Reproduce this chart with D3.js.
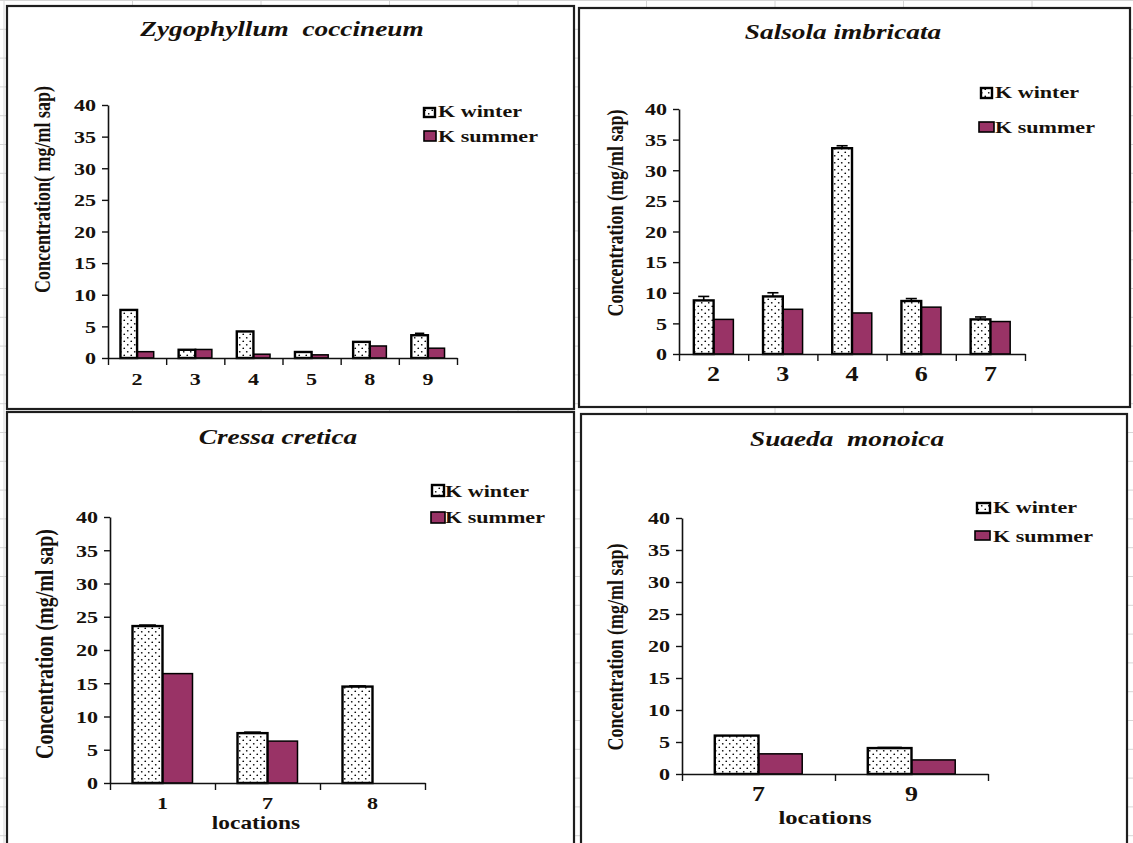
<!DOCTYPE html>
<html>
<head>
<meta charset="utf-8">
<script src="https://cdn.jsdelivr.net/npm/d3@7"></script>
<style>
  html, body { margin: 0; padding: 0; background: #fff; }
  svg { display: block; }
  text { font-family: "Liberation Serif", "Times New Roman", serif; fill: #16110c; }
</style>
</head>
<body>
<svg id="chart" width="1133" height="843"></svg>
<script>
// ---- data: potassium concentration (mg/ml sap) by sampling location ----
const seriesNames = ["K winter", "K summer"];
const yTicks = [0, 5, 10, 15, 20, 25, 30, 35, 40];

const zygoLocations = ["2", "3", "4", "5", "8", "9"];
const zygoWinter = [7.6, 1.3, 4.2, 0.95, 2.55, 3.6];
const zygoSummer = [1.0, 1.35, 0.6, 0.5, 1.9, 1.55];
const zygoWinterErr = [0, 0, 0, 0, 0, 0.3];

const salsolaLocations = ["2", "3", "4", "6", "7"];
const salsolaWinter = [8.75, 9.4, 33.6, 8.65, 5.65];
const salsolaSummer = [5.65, 7.3, 6.7, 7.65, 5.3];
const salsolaWinterErr = [0.65, 0.6, 0.4, 0.4, 0.4];

const cressaLocations = ["1", "7", "8"];
const cressaWinter = [23.6, 7.5, 14.5];
const cressaSummer = [16.45, 6.3, null];
const cressaWinterErr = [0.15, 0.15, 0.1];

const suaedaLocations = ["7", "9"];
const suaedaWinter = [6.0, 4.05];
const suaedaSummer = [3.15, 2.2];
const suaedaWinterErr = [0, 0.1];

// ---- layout of the four panels ----
const panels = [
  {
    title: "Zygophyllum  coccineum", cats: zygoLocations,
    winter: zygoWinter, summer: zygoSummer, err: zygoWinterErr,
    frame: [7, 6, 567, 403], x0: 108, x1: 457, yBase: 358, yTop: 105,
    titlePos: [282, 36], yLabel: "Concentration( mg/ml sap)", yLabelPos: [50, 189.5], yLabelSize: 18,
    xTickSize: 17, xTickDrop: 27, xLabelPos: null,
    legendX: 438,
    legend: [{ sw: [424, 108, 11, 9], base: 117 }, { sw: [424, 131, 12, 10], base: 142 }]
  },
  {
    title: "Salsola imbricata", cats: salsolaLocations,
    winter: salsolaWinter, summer: salsolaSummer, err: salsolaWinterErr,
    frame: [579, 8, 551, 399], x0: 679, x1: 1025, yBase: 354, yTop: 109,
    titlePos: [843, 39], yLabel: "Concentration (mg/ml sap)", yLabelPos: [623, 213], yLabelSize: 18,
    xTickSize: 20, xTickDrop: 27, xLabelPos: null,
    legendX: 995,
    legend: [{ sw: [981, 88, 11, 10], base: 98 }, { sw: [979, 122, 15, 10], base: 133 }]
  },
  {
    title: "Cressa cretica", cats: cressaLocations,
    winter: cressaWinter, summer: cressaSummer, err: cressaWinterErr,
    frame: [7, 412, 567, 440], x0: 110, x1: 425, yBase: 783, yTop: 517,
    titlePos: [278, 444], yLabel: "Concentration (mg/ml sap)", yLabelPos: [53, 644], yLabelSize: 20,
    xTickSize: 17, xTickDrop: 26, xLabelPos: [256, 829], xLabelSize: 18,
    legendX: 445,
    legend: [{ sw: [432, 485, 12, 11], base: 497 }, { sw: [431, 512, 14, 11], base: 523 }]
  },
  {
    title: "Suaeda  monoica", cats: suaedaLocations,
    winter: suaedaWinter, summer: suaedaSummer, err: suaedaWinterErr,
    frame: [581, 414, 546, 440], x0: 682, x1: 988, yBase: 774, yTop: 518,
    titlePos: [847, 446], yLabel: "Concentration (mg/ml sap)", yLabelPos: [623, 647], yLabelSize: 18,
    xTickSize: 20, xTickDrop: 27, xLabelPos: [825, 824], xLabelSize: 19,
    legendX: 993,
    legend: [{ sw: [977, 503, 13, 10], base: 513 }, { sw: [975, 531, 15, 9], base: 542 }]
  }
];

const STRETCH = 1.3;          // glyphs in this figure are drawn wide
const SUMMER_FILL = "#993366";
const svg = d3.select("#chart");

// dotted fill used for the winter bars
const defs = svg.append("defs");
const pat = defs.append("pattern")
  .attr("id", "dots").attr("patternUnits", "userSpaceOnUse")
  .attr("width", 7).attr("height", 7);
pat.append("rect").attr("width", 7).attr("height", 7).attr("fill", "#fff");
pat.append("circle").attr("cx", 1.75).attr("cy", 1.75).attr("r", 0.85).attr("fill", "#000");
pat.append("circle").attr("cx", 5.25).attr("cy", 5.25).attr("r", 0.85).attr("fill", "#000");

// faint worksheet grid behind the chart objects
const grid = svg.append("g").attr("stroke", "#d6d6d6").attr("stroke-width", 1);
d3.range(4, 1133, 128.5).forEach(x => {
  grid.append("line").attr("x1", x).attr("x2", x).attr("y1", 0).attr("y2", 843);
});
d3.range(0.5, 843, 28.8).forEach(y => {
  grid.append("line").attr("x1", 0).attr("x2", 1133).attr("y1", y).attr("y2", y);
});

function wideText(g, x, y, str, o) {
  const t = g.append("text")
    .attr("transform", `translate(${x},${y}) scale(${o.sx || STRETCH},1)` + (o.rotate ? " rotate(-90)" : ""))
    .attr("text-anchor", o.anchor || "start")
    .style("font-size", o.size + "px")
    .style("font-weight", o.weight || "bold")
    .style("font-style", o.italic ? "italic" : "normal")
    .style("white-space", "pre")
    .text(str);
  if (o.dy) t.attr("dy", o.dy);
  return t;
}

panels.forEach(p => {
  const g = svg.append("g");
  const [fx, fy, fw, fh] = p.frame;
  g.append("rect").attr("x", fx).attr("y", fy).attr("width", fw).attr("height", fh)
    .attr("fill", "#fff").attr("stroke", "#1e1e1e").attr("stroke-width", 2.2);

  const y = d3.scaleLinear().domain([0, 40]).range([p.yBase, p.yTop]);
  const x = d3.scaleBand().domain(p.cats).range([p.x0, p.x1])
    .paddingInner(1.5 / 3.5).paddingOuter(0.75 / 3.5);
  const xs = d3.scaleBand().domain(seriesNames).range([0, x.bandwidth()]);
  const edges = d3.scaleLinear().domain([0, p.cats.length]).range([p.x0, p.x1]);

  // bars
  const rows = p.cats.map((c, i) => ({ c, i, w: p.winter[i], s: p.summer[i], e: p.err[i] }));
  const bars = g.append("g");
  bars.selectAll("rect.summer").data(rows.filter(d => d.s != null)).join("rect")
    .attr("class", "summer")
    .attr("x", d => x(d.c) + xs(seriesNames[1]))
    .attr("y", d => y(d.s))
    .attr("width", xs.bandwidth())
    .attr("height", d => y(0) - y(d.s))
    .attr("fill", SUMMER_FILL).attr("stroke", "#000").attr("stroke-width", 1.5);
  bars.selectAll("rect.winter").data(rows.filter(d => d.w != null)).join("rect")
    .attr("class", "winter")
    .attr("x", d => x(d.c) + xs(seriesNames[0]))
    .attr("y", d => y(d.w))
    .attr("width", xs.bandwidth())
    .attr("height", d => y(0) - y(d.w))
    .attr("fill", "url(#dots)").attr("stroke", "#000").attr("stroke-width", 2.4);

  // standard-error caps on the winter bars
  const eb = g.append("g").attr("stroke", "#000").attr("stroke-width", 1.6);
  rows.filter(d => d.e > 0).forEach(d => {
    const cx = x(d.c) + xs(seriesNames[0]) + xs.bandwidth() / 2;
    const half = xs.bandwidth() * 0.28;
    eb.append("line").attr("x1", cx).attr("x2", cx).attr("y1", y(d.w)).attr("y2", y(d.w + d.e));
    eb.append("line").attr("x1", cx - half).attr("x2", cx + half).attr("y1", y(d.w + d.e)).attr("y2", y(d.w + d.e));
  });

  // y axis
  const ya = g.append("g").attr("transform", `translate(${p.x0},0)`)
    .call(d3.axisLeft(y).tickValues(yTicks).tickSize(6).tickSizeOuter(0));
  ya.select(".domain").attr("stroke", "#111").attr("stroke-width", 1.6);
  ya.selectAll(".tick line").attr("stroke", "#111").attr("stroke-width", 1.4);
  ya.selectAll(".tick text")
    .attr("x", 0).attr("dy", "0.34em")
    .attr("transform", `translate(-12,0) scale(${STRETCH},1)`)
    .style("font-size", "17px").style("font-weight", "bold")
    .attr("fill", null);

  // x axis: tick marks on category edges, labels at category centres
  const xe = g.append("g").attr("transform", `translate(0,${p.yBase})`)
    .call(d3.axisBottom(edges).tickValues(d3.range(p.cats.length + 1)).tickFormat("").tickSize(7).tickSizeOuter(0));
  xe.select(".domain").attr("stroke", "#111").attr("stroke-width", 1.6);
  xe.selectAll(".tick line").attr("stroke", "#111").attr("stroke-width", 1.4);
  const xl = g.append("g").attr("transform", `translate(0,${p.yBase})`)
    .call(d3.axisBottom(x).tickSize(0));
  xl.select(".domain").remove();
  xl.selectAll(".tick text")
    .attr("y", 0).attr("dy", null)
    .attr("transform", `translate(0,${p.xTickDrop}) scale(${STRETCH},1)`)
    .style("font-size", p.xTickSize + "px").style("font-weight", "bold")
    .attr("fill", null);
  g.selectAll(".tick text").attr("font-family", null).attr("font-size", null);

  // titles and axis labels
  wideText(g, p.titlePos[0], p.titlePos[1], p.title, { size: 21, anchor: "middle", italic: true });
  wideText(g, p.yLabelPos[0], p.yLabelPos[1], p.yLabel, { size: p.yLabelSize, anchor: "middle", rotate: true });
  if (p.xLabelPos) wideText(g, p.xLabelPos[0], p.xLabelPos[1], "locations", { size: p.xLabelSize, anchor: "middle" });

  // legend
  p.legend.forEach((l, i) => {
    const [sx, sy, sw, sh] = l.sw;
    g.append("rect").attr("x", sx).attr("y", sy).attr("width", sw).attr("height", sh)
      .attr("fill", i === 0 ? "url(#dots)" : SUMMER_FILL)
      .attr("stroke", "#000").attr("stroke-width", i === 0 ? 2.4 : 1.6);
    wideText(g, p.legendX, l.base, seriesNames[i], { size: 17 });
  });
});
</script>
</body>
</html>
